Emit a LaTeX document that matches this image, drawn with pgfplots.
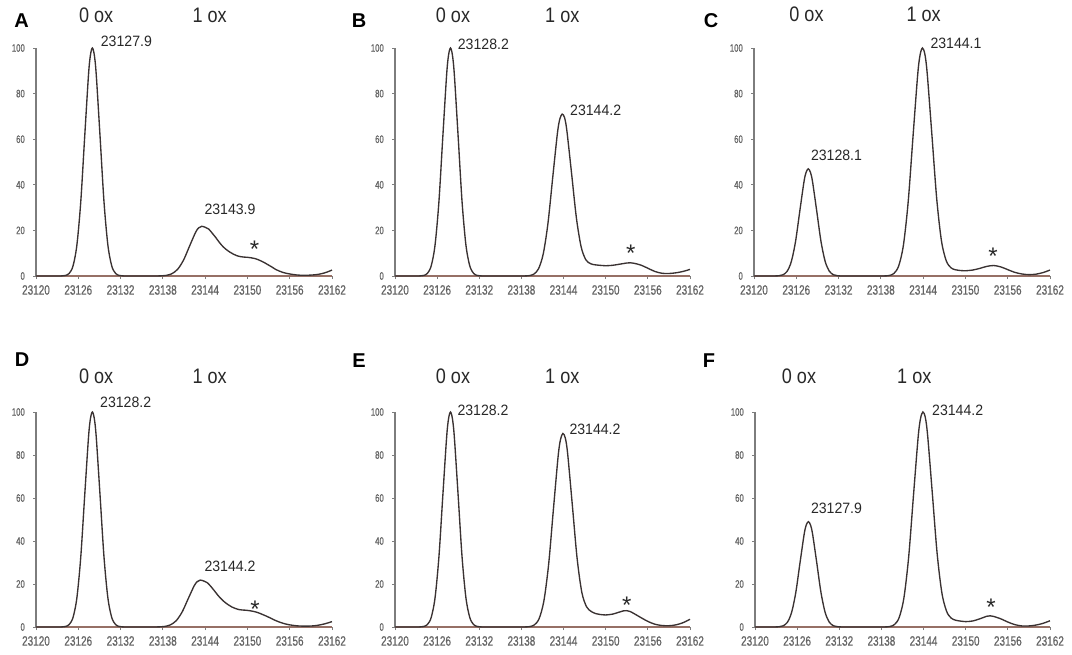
\documentclass[border=0pt]{standalone}
\usepackage{fontspec}
\setmainfont{Liberation Sans}
\newfontfamily\xtickfam[FakeStretch=0.74,FakeBold=0.6]{Liberation Sans}
\newfontfamily\ytickfam[FakeStretch=0.72,FakeBold=0.6]{Liberation Sans}
\newfontfamily\titlefam[FakeStretch=0.86]{Liberation Sans}
\newfontfamily\peakfam[FakeStretch=0.94]{Liberation Sans}
\usepackage{pgfplots}
\pgfplotsset{compat=1.18}
\definecolor{curvecol}{RGB}{58,50,50}
\definecolor{xaxcol}{RGB}{150,112,102}
\definecolor{yaxcol}{RGB}{125,125,125}
\definecolor{tickcol}{RGB}{100,100,100}
\definecolor{textcol}{RGB}{40,40,40}
\newcommand\xtickfont{\xtickfam\fontsize{13.5}{13.5}\selectfont}
\newcommand\ytickfont{\ytickfam\fontsize{10.8}{10.8}\selectfont}
\newcommand\titlefont{\titlefam\fontsize{21}{21}\selectfont}
\newcommand\peakfont{\peakfam\fontsize{15}{15}\selectfont}
\newcommand\letterfont{\bfseries\fontsize{20}{20}\selectfont}
\newcommand\starfont{\fontsize{24}{24}\selectfont}
\pgfplotsset{panel/.style={
  scale only axis, width=296pt,
  axis lines=left,
  x axis line style={-,draw=xaxcol,line width=1.1pt},
  y axis line style={-,draw=yaxcol,line width=1.1pt},
  xmin=23120, xmax=23162, ymin=0, ymax=100,
  xtick={23120,23126,...,23162}, ytick={0,20,...,100},
  tick align=outside, major tick length=3pt,
  tick style={draw=yaxcol,line width=0.9pt},
  xticklabel style={font=\xtickfont, text=tickcol, inner sep=0pt, anchor=north, yshift=-6pt},
  yticklabel style={font=\ytickfont, text=tickcol, inner sep=0pt, anchor=east, xshift=-8pt},
  /pgf/number format/1000 sep={}, /pgf/number format/assume math mode=true,
  scaled x ticks=false, scaled y ticks=false, clip=false
},
curve/.style={draw=curvecol, line width=1.35pt, smooth, mark=none}}
\begin{document}
\begin{tikzpicture}
\useasboundingbox[fill=white] (0pt,0pt) rectangle (1072pt,-654pt);
% A
\begin{axis}[panel, height=228pt, at={(36pt,-276pt)}, anchor=south west]
\addplot[curve] coordinates {(23120,0) (23121,0) (23122,0) (23123,0)
(23123.6,0.03) (23124.15,0.22) (23124.7,1.11) (23125.25,4.39) (23125.8,13.53) (23126.35,32.47) (23126.9,60.65) (23127.45,88.25) (23127.725,96.92) (23128,100) (23128.275,96.92) (23128.55,88.25) (23129.1,60.65) (23129.65,32.47) (23130.2,13.53) (23130.75,4.39) (23131.3,1.11) (23131.85,0.22) (23132.4,0.03)
(23133,0) (23134,0) (23135,0) (23136,0) (23137,0)
(23137.55,0.05) (23138.4,0.24) (23139.25,0.96) (23140.1,2.95) (23140.95,7.08) (23141.8,13.2) (23142.65,19.2) (23143.075,21.1) (23143.5,21.8)
(23144,21.4) (23144.5,20.6) (23145,18.8) (23145.5,16.9) (23146,14.8) (23146.5,13.0) (23147,11.6) (23147.5,10.5) (23148,9.6) (23148.5,8.9) (23149,8.5) (23149.5,8.3) (23150,8.2) (23150.5,8.0) (23151,7.7) (23151.5,7.2) (23152,6.5) (23152.5,5.7) (23153,4.8) (23153.5,3.9) (23154,2.9) (23154.5,2.2) (23155,1.6) (23155.5,1.2) (23156,0.9) (23157,0.45) (23158,0.3) (23159,0.4) (23160,0.7) (23161,1.4) (23162,2.6)};
\end{axis}
% B
\begin{axis}[panel, width=295pt, height=228pt, at={(395pt,-276pt)}, anchor=south west]
\addplot[curve] coordinates {(23120,0) (23121,0) (23122,0) (23123,0)
(23123.5,0.03) (23124.05,0.22) (23124.6,1.11) (23125.15,4.39) (23125.7,13.53) (23126.25,32.47) (23126.8,60.65) (23127.35,88.25) (23127.625,96.92) (23127.9,100) (23128.175,96.92) (23128.45,88.25) (23129,60.65) (23129.55,32.47) (23130.1,13.53) (23130.65,4.39) (23131.2,1.11) (23131.75,0.22) (23132.3,0.03)
(23133,0) (23134,0) (23135,0) (23136,0) (23137,0) (23138,0)
(23138.4,0.02) (23139.075,0.16) (23139.75,0.79) (23140.425,3.12) (23141.1,9.61) (23141.775,23.05) (23142.45,43.06) (23143.125,62.66) (23143.4625,68.8) (23143.8,71)
(23144.1375,69.5) (23144.475,63.6) (23145.15,44.7) (23145.825,25.5) (23146.5,12.8) (23147.175,7.1) (23147.85,5.4) (23148.525,4.9) (23149.5,4.6) (23150,4.5) (23151,4.7) (23152,5.2) (23153,5.7) (23153.5,5.8) (23154,5.6) (23155,4.8) (23156,3.4) (23157,2.0) (23158,1.2) (23159,1.1) (23160,1.4) (23161,2.0) (23162,2.9)};
\end{axis}
% C
\begin{axis}[panel, height=228pt, at={(754pt,-276pt)}, anchor=south west]
\addplot[curve] coordinates {(23120,0) (23121,0) (23122,0) (23122.9,0.01) (23123.5,0.1) (23124.1,0.52) (23124.7,2.06) (23125.3,6.36) (23125.9,15.26) (23126.5,28.5) (23127.1,41.5) (23127.4,45.55) (23127.7,47) (23128,45.55) (23128.3,41.5) (23128.9,28.5) (23129.5,15.26) (23130.1,6.36) (23130.7,2.06) (23131.3,0.52) (23131.9,0.1) (23132.5,0.01)
(23133,0) (23134,0) (23135,0) (23136,0) (23137,0) (23138,0)
(23138.5,0.03) (23139.175,0.22) (23139.85,1.11) (23140.525,4.39) (23141.2,13.53) (23141.875,32.47) (23142.55,60.65) (23143.225,88.25) (23143.5625,96.92) (23143.9,100) (23144.2375,97.4) (23144.575,88.9) (23145.25,61.6) (23145.925,33.9) (23146.6,15.4) (23147.275,6.7) (23147.95,3.6) (23148.625,2.7) (23149.5,2.35) (23150,2.3) (23151,2.6) (23152,3.3) (23153,4.2) (23154,4.6) (23155,4.0) (23156,2.8) (23157,1.6) (23158,0.9) (23159,0.6) (23160,0.8) (23161,1.5) (23162,2.6)};
\end{axis}
% D
\begin{axis}[panel, height=215pt, at={(36pt,-627pt)}, anchor=south west]
\addplot[curve] coordinates {(23120,0) (23121,0) (23122,0) (23123,0)
(23123.6,0.03) (23124.15,0.22) (23124.7,1.11) (23125.25,4.39) (23125.8,13.53) (23126.35,32.47) (23126.9,60.65) (23127.45,88.25) (23127.725,96.92) (23128,100) (23128.275,96.92) (23128.55,88.25) (23129.1,60.65) (23129.65,32.47) (23130.2,13.53) (23130.75,4.39) (23131.3,1.11) (23131.85,0.22) (23132.4,0.03)
(23133,0) (23134,0) (23135,0) (23136,0) (23136.8,0)
(23137.35,0.05) (23138.2,0.24) (23139.05,0.96) (23139.9,2.95) (23140.75,7.08) (23141.6,13.2) (23142.45,19.2) (23142.875,21.1) (23143.3,21.8)
(23143.8,21.4) (23144.3,20.6) (23144.8,18.9) (23145.3,16.9) (23145.8,14.8) (23146.3,13.0) (23146.8,11.5) (23147.3,10.3) (23147.8,9.3) (23148.3,8.6) (23148.8,8.1) (23149.3,7.9) (23149.8,7.8) (23150.3,7.6) (23150.8,7.3) (23151.3,6.9) (23151.8,6.3) (23152.3,5.6) (23152.8,4.9) (23153.3,4.1) (23153.8,3.3) (23154.3,2.6) (23154.8,2.0) (23155.3,1.5) (23156,1.0) (23157,0.55) (23158,0.4) (23159,0.45) (23160,0.8) (23161,1.5) (23162,2.5)};
\end{axis}
% E
\begin{axis}[panel, width=295pt, height=215pt, at={(395pt,-627pt)}, anchor=south west]
\addplot[curve] coordinates {(23120,0) (23121,0) (23122,0) (23123,0)
(23123.5,0.03) (23124.05,0.22) (23124.6,1.11) (23125.15,4.39) (23125.7,13.53) (23126.25,32.47) (23126.8,60.65) (23127.35,88.25) (23127.625,96.92) (23127.9,100) (23128.175,96.92) (23128.45,88.25) (23129,60.65) (23129.55,32.47) (23130.1,13.53) (23130.65,4.39) (23131.2,1.11) (23131.75,0.22) (23132.3,0.03)
(23133,0) (23134,0) (23135,0) (23136,0) (23137,0) (23138,0)
(23138.5,0.03) (23139.175,0.2) (23139.85,1.0) (23140.525,3.95) (23141.2,12.18) (23141.875,29.2) (23142.55,54.6) (23143.225,79.4) (23143.5625,87.2) (23143.9,90) (23144.2375,88.0) (23144.575,80.8) (23145.25,56.6) (23145.925,32.0) (23146.6,16.1) (23147.275,9.4) (23147.95,7.2) (23148.625,6.2) (23149.5,5.7) (23150,5.6) (23151,6.0) (23152,7.0) (23152.5,7.5) (23153,7.6) (23153.5,7.2) (23154,6.3) (23155,4.4) (23156,2.6) (23157,1.3) (23158,0.7) (23159,0.6) (23160,1.0) (23161,2.0) (23162,3.6)};
\end{axis}
% F
\begin{axis}[panel, width=295pt, height=215pt, at={(755pt,-627pt)}, anchor=south west]
\addplot[curve] coordinates {(23120,0) (23121,0) (23122,0) (23122.8,0.01) (23123.4,0.11) (23124,0.54) (23124.6,2.15) (23125.2,6.63) (23125.8,15.9) (23126.4,29.7) (23127,43.2) (23127.3,47.5) (23127.6,49) (23127.9,47.5) (23128.2,43.2) (23128.8,29.7) (23129.4,15.9) (23130,6.63) (23130.6,2.15) (23131.2,0.54) (23131.8,0.11) (23132.4,0.01)
(23133,0) (23134,0) (23135,0) (23136,0) (23137,0) (23138,0)
(23138.5,0.03) (23139.175,0.22) (23139.85,1.11) (23140.525,4.39) (23141.2,13.53) (23141.875,32.47) (23142.55,60.65) (23143.225,88.25) (23143.5625,96.92) (23143.9,100) (23144.2375,97.6) (23144.575,89.2) (23145.25,62.0) (23145.925,34.4) (23146.6,16.0) (23147.275,7.3) (23147.95,4.1) (23148.625,3.1) (23149.5,2.65) (23150,2.5) (23151,2.8) (23152,3.8) (23153,5.0) (23153.5,5.2) (23154,4.9) (23155,3.8) (23156,2.3) (23157,1.1) (23158,0.5) (23159,0.5) (23160,0.9) (23161,1.7) (23162,2.9)};
\end{axis}
% panel letters
\begin{scope}[every node/.style={inner sep=0pt, text=black, font=\letterfont}]
\node at (21.7pt,-21pt) {A};
\node at (359pt,-21pt) {B};
\node at (711pt,-21pt) {C};
\node at (22pt,-359.7pt) {D};
\node at (359pt,-361pt) {E};
\node at (709pt,-361pt) {F};
\end{scope}
% titles
\begin{scope}[every node/.style={inner sep=0pt, text=textcol, font=\titlefont}]
\node at (96.2pt,-15pt) {0 ox};
\node at (209.7pt,-15pt) {1 ox};
\node at (453pt,-15.5pt) {0 ox};
\node at (562.3pt,-15.5pt) {1 ox};
\node at (806.5pt,-14.7pt) {0 ox};
\node at (923.7pt,-14.7pt) {1 ox};
\node at (96.2pt,-376pt) {0 ox};
\node at (209.7pt,-376pt) {1 ox};
\node at (453pt,-376.3pt) {0 ox};
\node at (562.3pt,-376.3pt) {1 ox};
\node at (799pt,-376pt) {0 ox};
\node at (914.3pt,-376pt) {1 ox};
\end{scope}
% peak labels
\begin{scope}[every node/.style={inner sep=0pt, text=textcol, font=\peakfont}]
\node[anchor=west] at (100.7pt,-41pt) {23127.9};
\node at (230pt,-209pt) {23143.9};
\node[anchor=west] at (457.7pt,-44pt) {23128.2};
\node[anchor=west] at (570pt,-110pt) {23144.2};
\node[anchor=west] at (930.3pt,-43pt) {23144.1};
\node at (836.5pt,-155.5pt) {23128.1};
\node[anchor=west] at (100pt,-402.5pt) {23128.2};
\node at (230pt,-566.3pt) {23144.2};
\node[anchor=west] at (457.3pt,-410pt) {23128.2};
\node[anchor=west] at (569.3pt,-429pt) {23144.2};
\node[anchor=west] at (932pt,-410pt) {23144.2};
\node at (836.5pt,-508pt) {23127.9};
\end{scope}
% asterisks
\begin{scope}[every node/.style={inner sep=0pt, text=textcol, font=\starfont, anchor=north}]
\node at (254.5pt,-240.7pt) {*};
\node at (630.7pt,-244.6pt) {*};
\node at (993pt,-248pt) {*};
\node at (255pt,-600.3pt) {*};
\node at (626.7pt,-596.3pt) {*};
\node at (991pt,-599pt) {*};
\end{scope}
\end{tikzpicture}
\end{document}
